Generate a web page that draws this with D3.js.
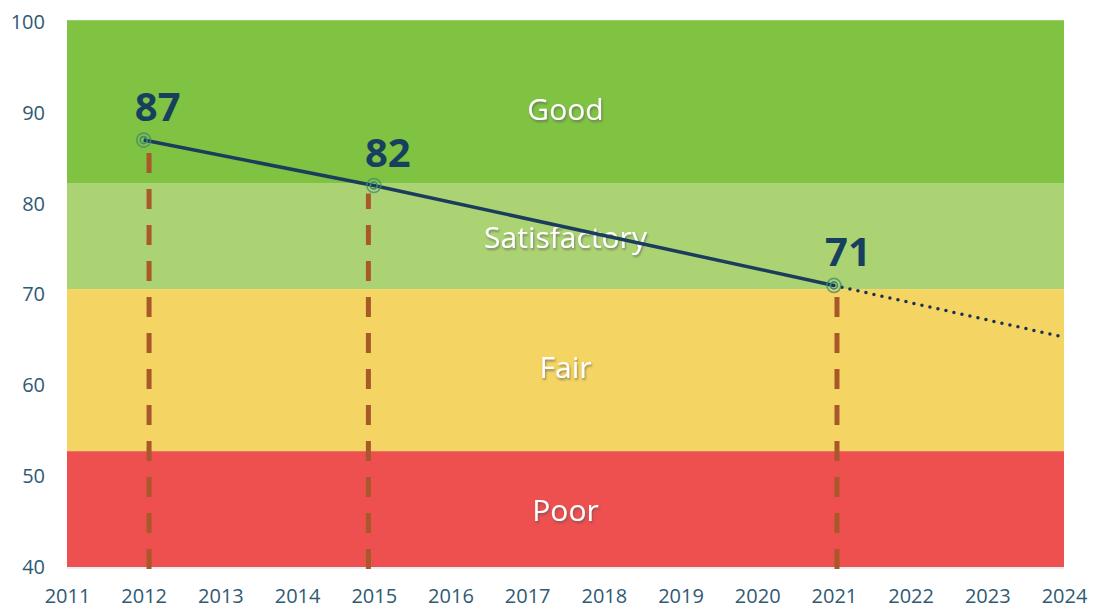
<!DOCTYPE html>
<html>
<head>
<meta charset="utf-8">
<script src="https://cdn.jsdelivr.net/npm/d3@7.9.0/dist/d3.min.js"></script>
<style>
  body { margin: 0; background: #fff; }
  svg { display: block; font-family: 'Open Sans', sans-serif; }
</style>
</head>
<body>
<svg id="chart" width="1093" height="610"></svg>
<script>
// ---- data ----
const years = [2011, 2012, 2013, 2014, 2015, 2016, 2017, 2018, 2019, 2020, 2021, 2022, 2023, 2024];
const yTicks = [40, 50, 60, 70, 80, 90, 100];

const bandNames = ['Good', 'Satisfactory', 'Fair', 'Poor'];
const bandLow = [82.2, 70.6, 52.75, 40];
const bandHigh = [100.2, 82.2, 70.6, 52.75];
const bandColors = ['#80c242', '#acd373', '#f4d462', '#ee4f4f'];

const scoreYears = [2012, 2015, 2021];
const scores = [87, 82, 71];
// drop lines sit a touch off the points in the original
const dropYears = [2012.07, 2014.93, 2021.04];

const trendYears = [2021, 2024];
const trendValues = [71, 65.3];

// ---- layout ----
const svg = d3.select('#chart');
const plotLeft = 67, plotRight = 1064, plotTop = 22, plotBottom = 567;

const x = d3.scaleLinear().domain([2011, 2024]).range([plotLeft, plotRight]);
const y = d3.scaleLinear().domain([40, 100]).range([plotBottom, plotTop]);

const defs = svg.append('defs');
const shadow = defs.append('filter').attr('id', 'shadow')
  .attr('x', '-20%').attr('y', '-40%').attr('width', '140%').attr('height', '180%');
shadow.append('feDropShadow')
  .attr('dx', 1).attr('dy', 2).attr('stdDeviation', 1.2)
  .attr('flood-color', '#555').attr('flood-opacity', 0.6);

// bands
const bands = bandNames.map((name, i) => ({
  name, lo: bandLow[i], hi: bandHigh[i], color: bandColors[i]
}));

svg.append('g').selectAll('rect')
  .data(bands)
  .join('rect')
  .attr('x', x(2011))
  .attr('width', x(2024) - x(2011))
  .attr('y', (d) => y(d.hi))
  .attr('height', (d) => y(d.lo) - y(d.hi))
  .attr('fill', (d) => d.color);

// faint baseline
svg.append('line')
  .attr('x1', x(2011)).attr('x2', x(2024))
  .attr('y1', y(40) + 1).attr('y2', y(40) + 1)
  .attr('stroke', '#dbe8f2').attr('stroke-width', 1.5);

// label nudges (px) so they sit like the original
const labelNudge = { Good: 8, Satisfactory: 1, Fair: -3, Poor: 1 };
svg.append('g').selectAll('text')
  .data(bands)
  .join('text')
  .attr('x', (x(2011) + x(2024)) / 2)
  .attr('y', (d) => (y(d.lo) + y(d.hi)) / 2 + labelNudge[d.name])
  .attr('dy', '0.35em')
  .attr('text-anchor', 'middle')
  .attr('fill', '#fff')
  .attr('font-size', 30)
  .attr('filter', 'url(#shadow)')
  .text((d) => d.name);

// axes
const axisColor = '#2f5a73';
const yAxis = svg.append('g')
  .attr('transform', `translate(${plotLeft - 22},0)`)
  .call(d3.axisLeft(y).tickValues(yTicks).tickSize(0).tickPadding(0));
yAxis.select('.domain').remove();
yAxis.selectAll('text')
  .attr('fill', axisColor).attr('font-size', 20)
  .attr('font-family', "'Open Sans', sans-serif");

const xAxis = svg.append('g')
  .attr('transform', `translate(0,${plotBottom + 22})`)
  .call(d3.axisBottom(x).tickValues(years).tickFormat(d3.format('d')).tickSize(0).tickPadding(0));
xAxis.select('.domain').remove();
xAxis.selectAll('text')
  .attr('fill', axisColor).attr('font-size', 20)
  .attr('font-family', "'Open Sans', sans-serif");

// drop lines
const points = scoreYears.map((yr, i) => ({ yr, v: scores[i], dx: dropYears[i] }));

svg.append('g').selectAll('line')
  .data(points)
  .join('line')
  .attr('x1', (d) => x(d.dx)).attr('x2', (d) => x(d.dx))
  .attr('y1', y(40) + 2)
  .attr('y2', (d) => y(d.v) + 8)
  .attr('stroke', '#a9582a')
  .attr('stroke-width', 5)
  .attr('stroke-dasharray', '20,16');

// trend line
const line = d3.line().x((d) => x(d.yr)).y((d) => y(d.v));
svg.append('path')
  .datum(points)
  .attr('d', line)
  .attr('fill', 'none')
  .attr('stroke', '#1b3d5c')
  .attr('stroke-width', 3.5);

// projection (dotted)
const trend = trendYears.map((yr, i) => ({ yr, v: trendValues[i] }));
svg.append('path')
  .datum(trend)
  .attr('d', line)
  .attr('fill', 'none')
  .attr('stroke', '#1b2f55')
  .attr('stroke-width', 3.5)
  .attr('stroke-linecap', 'round')
  .attr('stroke-dasharray', '0,8.2');

// markers
const markers = svg.append('g').selectAll('g')
  .data(points)
  .join('g')
  .attr('transform', (d) => `translate(${x(d.yr)},${y(d.v)})`);
markers.append('circle')
  .attr('r', 7)
  .attr('fill', 'none')
  .attr('stroke', '#3f8a73')
  .attr('stroke-opacity', 0.75)
  .attr('stroke-width', 1.6);
markers.append('circle')
  .attr('r', 3.5)
  .attr('fill', 'none')
  .attr('stroke', '#3f8a73')
  .attr('stroke-width', 1.6);

// value labels
svg.append('g').selectAll('text')
  .data(points)
  .join('text')
  .attr('x', (d) => x(d.yr) + 14)
  .attr('y', (d) => y(d.v) - 19)
  .attr('text-anchor', 'middle')
  .attr('fill', '#17405e')
  .attr('font-size', 40)
  .attr('font-weight', 'bold')
  .text((d) => d.v);
</script>
</body>
</html>
